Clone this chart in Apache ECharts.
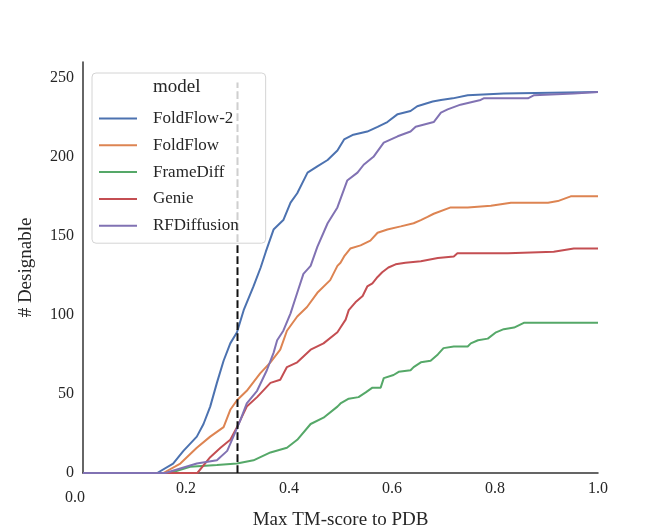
<!DOCTYPE html>
<html lang="en">
<head>
    <meta charset="UTF-8">
    <title>designable-vs-tm</title>
    <script src="https://cdn.jsdelivr.net/npm/echarts@6.0.0/dist/echarts.min.js"></script>
    <style>
        html, body { margin: 0; padding: 0; background: #fff; }
    </style>
</head>
<body>
    <div id="main" style="width: 664px;height:532px;"></div>

    <script>
        // model names, legend order
        var models = ['FoldFlow-2', 'FoldFlow', 'FrameDiff', 'Genie', 'RFDiffusion'];
        var colors = ['#4C72B0', '#DD8452', '#55A868', '#C44E52', '#8172B3'];

        // max TM-score (x) and cumulative # designable (y)
        var foldflow2X = [0, 0.144, 0.175, 0.195, 0.221, 0.234, 0.247, 0.26, 0.273, 0.286, 0.299, 0.312, 0.331, 0.345, 0.355, 0.37, 0.389, 0.403, 0.416, 0.436, 0.455, 0.475, 0.494, 0.507, 0.525, 0.552, 0.572, 0.591, 0.611, 0.636, 0.649, 0.679, 0.695, 0.718, 0.747, 0.817, 1.0];
        var foldflow2Y = [0, 0, 6, 14, 23, 31, 42, 57, 71, 82, 89, 103, 118, 130, 140, 154, 160, 171, 177, 190, 194, 198, 204, 211, 214, 216, 219, 222, 227, 229, 232, 235, 236, 237, 239, 240, 241];

        var foldflowX = [0, 0.156, 0.189, 0.221, 0.247, 0.273, 0.286, 0.299, 0.318, 0.344, 0.364, 0.383, 0.396, 0.416, 0.435, 0.455, 0.48, 0.494, 0.5, 0.507, 0.519, 0.539, 0.558, 0.572, 0.591, 0.617, 0.642, 0.656, 0.669, 0.681, 0.714, 0.747, 0.792, 0.831, 0.903, 0.922, 0.947, 1.0];
        var foldflowY = [0, 0, 6, 16, 23, 29, 40, 46, 52, 63, 70, 78, 90, 99, 105, 114, 122, 131, 133, 137, 142, 144, 147, 152, 154, 156, 158, 160, 162, 164, 168, 168, 169, 171, 171, 172, 175, 175];

        var framediffX = [0, 0.169, 0.189, 0.208, 0.26, 0.299, 0.331, 0.364, 0.396, 0.416, 0.442, 0.467, 0.494, 0.5, 0.516, 0.535, 0.549, 0.562, 0.578, 0.584, 0.603, 0.613, 0.636, 0.642, 0.656, 0.675, 0.689, 0.70, 0.72, 0.747, 0.753, 0.767, 0.786, 0.802, 0.817, 0.837, 0.856, 1.0];
        var framediffY = [0, 0, 2, 4, 5, 6, 8, 13, 16, 21, 31, 35, 42, 44, 47, 48, 51, 54, 54, 60, 62, 64, 65, 67, 70, 71, 75, 79, 80, 80, 82, 84, 85, 89, 91, 92, 95, 95];

        var genieX = [0, 0.222, 0.247, 0.267, 0.286, 0.299, 0.318, 0.338, 0.364, 0.383, 0.396, 0.416, 0.442, 0.467, 0.494, 0.5, 0.51, 0.516, 0.529, 0.543, 0.552, 0.562, 0.572, 0.581, 0.593, 0.607, 0.626, 0.656, 0.689, 0.72, 0.727, 0.825, 0.827, 0.914, 0.953, 1.0];
        var genieY = [0, 0, 10, 16, 21, 29, 42, 48, 57, 59, 67, 70, 78, 82, 89, 92, 97, 103, 108, 112, 118, 120, 124, 127, 130, 132, 133, 134, 136, 137, 139, 139, 140, 140, 142, 142];

        var rfdiffusionX = [0, 0.16, 0.221, 0.26, 0.28, 0.292, 0.305, 0.318, 0.338, 0.357, 0.37, 0.377, 0.389, 0.403, 0.416, 0.428, 0.442, 0.455, 0.475, 0.494, 0.513, 0.533, 0.545, 0.564, 0.584, 0.611, 0.636, 0.646, 0.681, 0.695, 0.708, 0.733, 0.772, 0.778, 0.864, 0.876, 0.953, 1.0];
        var rfdiffusionY = [0, 0, 6, 8, 14, 23, 33, 44, 52, 65, 76, 84, 90, 101, 114, 126, 131, 143, 158, 168, 185, 190, 195, 200, 209, 213, 216, 219, 222, 228, 230, 233, 236, 237, 237, 239, 240, 241];

        var xsByModel = [foldflow2X, foldflowX, framediffX, genieX, rfdiffusionX];
        var ysByModel = [foldflow2Y, foldflowY, framediffY, genieY, rfdiffusionY];

        // TM-score cutoff line
        var cutoffX = 0.3;
        var cutoffTop = 247;

        var font = 'Liberation Serif';
        var textColor = '#262626';

        var myChart = echarts.init(document.getElementById('main'));

        var series = models.map(function (name, i) {
            var pts = xsByModel[i].map(function (x, j) { return [x, ysByModel[i][j]]; });
            return {
                name: name,
                type: 'line',
                data: pts,
                symbol: 'none',
                color: colors[i],
                lineStyle: { width: 2, color: colors[i] },
                z: 2
            };
        });
        series.push({
            name: 'cutoff',
            type: 'line',
            data: [[cutoffX, 0], [cutoffX, cutoffTop]],
            symbol: 'none',
            lineStyle: { width: 2, color: '#111', type: [7.7, 3.3] },
            z: 3
        });

        var option = {
            animation: false,
            grid: { left: 83, right: 66, top: 62, bottom: 59, outerBoundsMode: 'none' },
            xAxis: {
                type: 'value',
                min: 0, max: 1, interval: 0.2,
                name: 'Max TM-score to PDB',
                nameLocation: 'middle',
                nameGap: 34,
                nameTextStyle: { fontFamily: font, fontSize: 19, color: textColor },
                axisLine: { show: true, lineStyle: { color: '#333', width: 1.5 } },
                axisTick: { show: false },
                splitLine: { show: false },
                axisLabel: {
                    margin: 8,
                    fontFamily: font, fontSize: 16, color: textColor,
                    formatter: function (v) {
                        return v === 0 ? '{low|0.0}' : v.toFixed(1);
                    },
                    rich: {
                        low: { fontFamily: font, fontSize: 16, color: textColor, padding: [9, 16, 0, 0] }
                    }
                }
            },
            yAxis: {
                type: 'value',
                min: 0, max: 260, interval: 50,
                name: '# Designable',
                nameLocation: 'middle',
                nameGap: 47,
                nameRotate: 90,
                nameTextStyle: { fontFamily: font, fontSize: 19, color: textColor },
                axisLine: { show: true, lineStyle: { color: '#333', width: 1.5 } },
                axisTick: { show: false },
                splitLine: { show: false },
                axisLabel: {
                    margin: 9, showMaxLabel: false,
                    fontFamily: font, fontSize: 16, color: textColor
                }
            },
            legend: {
                data: models,
                orient: 'vertical',
                left: 92, top: 73,
                padding: [37, 27, 9, 7],
                icon: 'path://M0,0 L38,0 L38,2 L0,2 Z',
                itemWidth: 38, itemHeight: 14, itemGap: 9.8,
                backgroundColor: 'rgba(255,255,255,0.8)',
                borderColor: '#d4d4d4', borderWidth: 1, borderRadius: 4,
                textStyle: { fontFamily: font, fontSize: 17, color: textColor, padding: [0, 0, 0, 11] }
            },
            graphic: [{
                type: 'text',
                left: 153, top: 78, z: 10,
                style: { text: 'model', fontFamily: font, fontSize: 19, fill: textColor }
            }],
            series: series
        };

        myChart.setOption(option);
    </script>
</body>
</html>
